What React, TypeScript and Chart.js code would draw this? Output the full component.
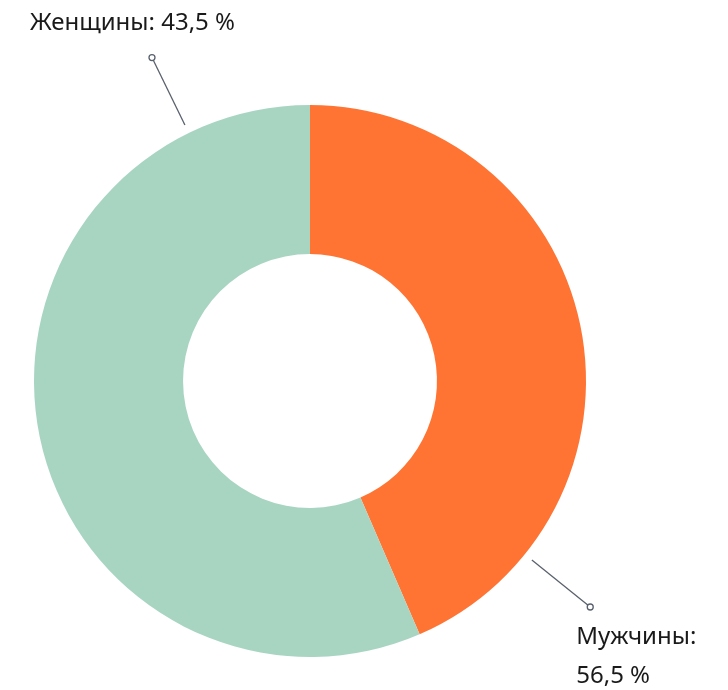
import React, { useEffect, useRef } from "react";
import { Chart, registerables } from "chart.js";

Chart.register(...registerables);

const categories = ["Мужчины", "Женщины"];
const values = [43.5, 56.5];
const labelTexts = ["Мужчины: 56,5 %", "Женщины: 43,5 %"];
const colors = ["#FF7433", "#A8D5C2"];
const labelFractions = [0.823, 0.872];

const FONT = "24px 'Noto Sans', sans-serif";

const calloutPlugin = {
  id: "callouts",
  afterDraw(chart: any) {
    const ctx = chart.ctx as CanvasRenderingContext2D;
    const meta = chart.getDatasetMeta(0);
    ctx.save();
    meta.data.forEach((arc: any, i: number) => {
      const { x, y, startAngle, endAngle, outerRadius } = arc.getProps(
        ["x", "y", "startAngle", "endAngle", "outerRadius"],
        true
      );
      const a = startAngle + (endAngle - startAngle) * labelFractions[i];
      const r1 = outerRadius + 9;
      const r2 = outerRadius + 84;
      const x1 = x + Math.cos(a) * r1;
      const y1 = y + Math.sin(a) * r1;
      const x2 = x + Math.cos(a) * r2;
      const y2 = y + Math.sin(a) * r2;
      ctx.strokeStyle = "#59616d";
      ctx.lineWidth = 1.3;
      ctx.beginPath();
      ctx.moveTo(x1, y1);
      ctx.lineTo(x2, y2);
      ctx.stroke();
      ctx.beginPath();
      ctx.arc(x2, y2, 3, 0, Math.PI * 2);
      ctx.fillStyle = "#ffffff";
      ctx.fill();
      ctx.stroke();

      ctx.font = FONT;
      ctx.fillStyle = "#1a1a1a";
      ctx.textBaseline = "alphabetic";
      const text = labelTexts[i];
      if (y2 < y) {
        ctx.textAlign = "center";
        ctx.fillText(text, x2 - 19.5, y2 - 28);
      } else {
        ctx.textAlign = "left";
        const left = x2 - 14;
        const maxW = chart.width - left - 4;
        const words = text.split(" ");
        const lines: string[] = [];
        let cur = "";
        words.forEach((w) => {
          const t = cur ? cur + " " + w : w;
          if (ctx.measureText(t).width > maxW && cur) {
            lines.push(cur);
            cur = w;
          } else cur = t;
        });
        if (cur) lines.push(cur);
        lines.forEach((ln, k) => ctx.fillText(ln, left, y2 + 37 + k * 39));
      }
    });
    ctx.restore();
  },
};

export default function App() {
  const ref = useRef<HTMLCanvasElement>(null);
  useEffect(() => {
    if (!ref.current) return;
    const chart = new Chart(ref.current, {
      type: "doughnut",
      data: {
        labels: categories,
        datasets: [
          {
            data: values,
            backgroundColor: colors,
            borderWidth: 0,
          },
        ],
      },
      options: {
        responsive: false,
        animation: false,
        cutout: "46%",
        layout: { padding: { left: 34, right: 142, top: 105, bottom: 33 } },
        plugins: {
          legend: { display: false },
          tooltip: { enabled: false },
        },
      },
      plugins: [calloutPlugin],
    });
    return () => chart.destroy();
  }, []);
  return (
    <div style={{ position: "fixed", left: 0, top: 0, width: 728, height: 690, background: "#fff" }}>
      <canvas ref={ref} width={728} height={690} style={{ width: 728, height: 690 }} />
    </div>
  );
}
